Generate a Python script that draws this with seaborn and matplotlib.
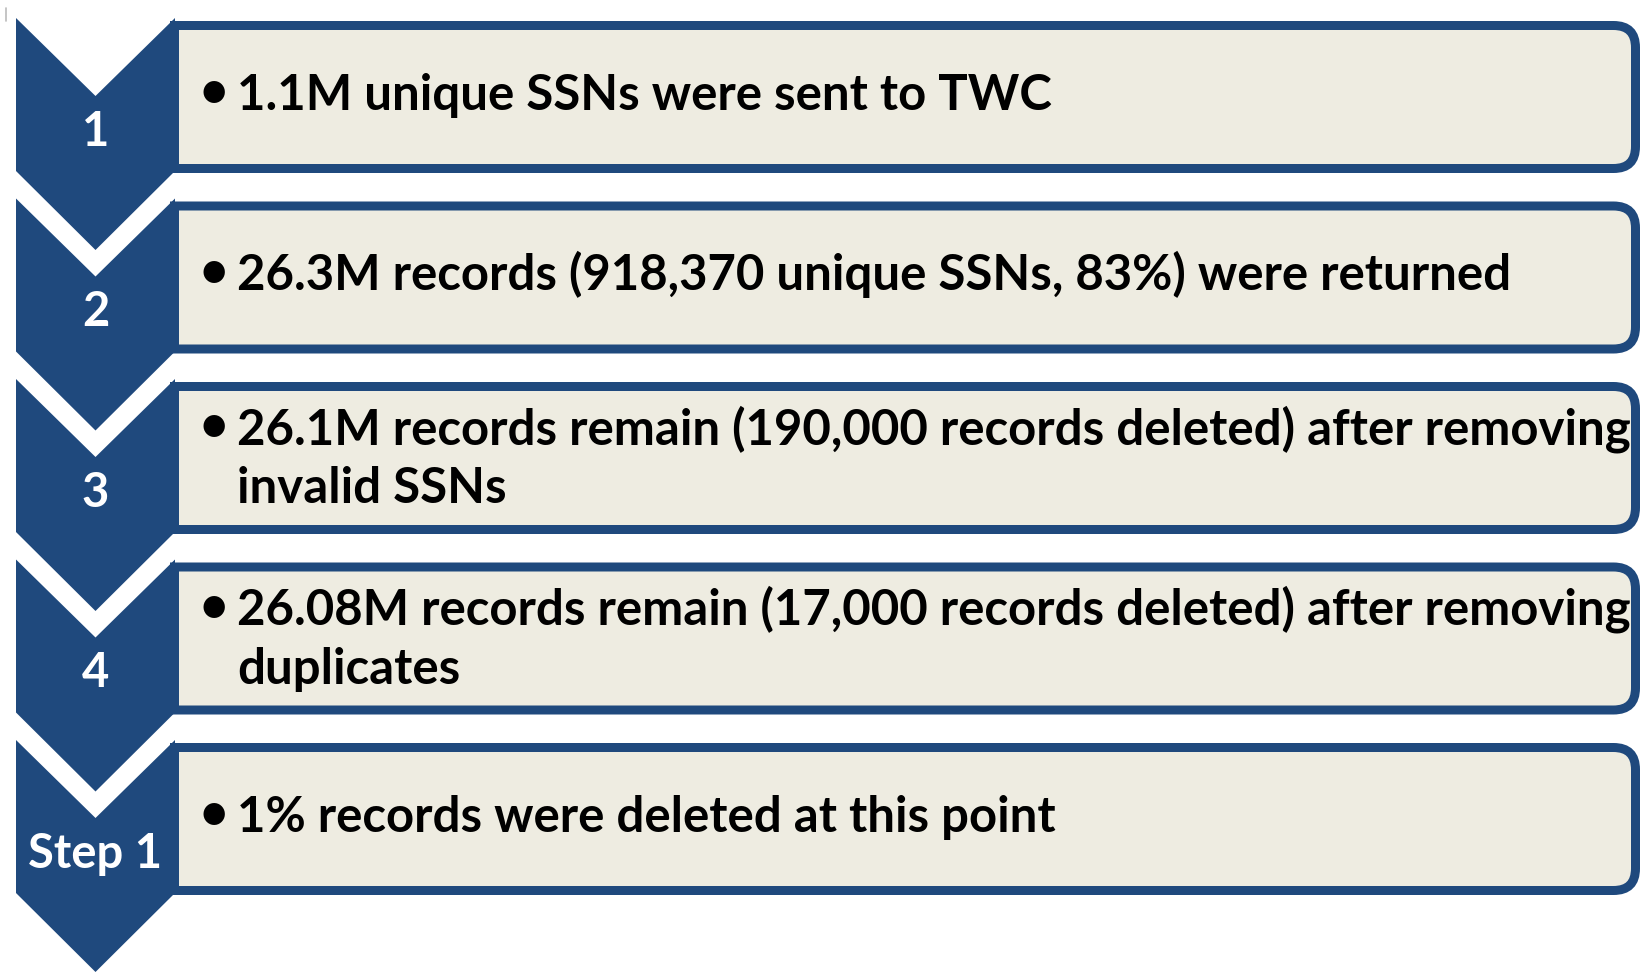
import matplotlib
matplotlib.use("Agg")
import matplotlib.pyplot as plt
import seaborn as sns
from matplotlib.path import Path
from matplotlib.patches import PathPatch, Polygon

# 数据: 每一步的编号与说明文字
step_labels = ["1", "2", "3", "4", "Step 1"]
step_lines = [
    ["1.1M unique SSNs were sent to TWC"],
    ["26.3M records (918,370 unique SSNs, 83%) were returned"],
    ["26.1M records remain (190,000 records deleted) after removing", "invalid SSNs"],
    ["26.08M records remain (17,000 records deleted) after removing", "duplicates"],
    ["1% records were deleted at this point"],
]

NAVY = "#1F497D"
TAN = "#EEECE1"

sns.set_theme(style="white")
plt.rcParams["font.family"] = ["Lato", "DejaVu Sans"]

W, H = 1642, 973
fig = plt.figure(figsize=(W / 100, H / 100), dpi=100)
fig.patch.set_facecolor("white")
ax = fig.add_axes([0, 0, 1, 1])
ax.set_xlim(0, W)
ax.set_ylim(H, 0)
ax.axis("off")

# 版式参数 (像素)
chev_x0, chev_x1 = 16, 175
chev_xc = (chev_x0 + chev_x1) / 2
notch, tip = 78, 79
box_top0, pitch = 21, 180.5
box_x0, box_x1 = 170, 1640
box_h = 152
radius = 22
lw_px = 9
text_x, bullet_x = 237, 214
line_gap = 59

renderer = fig.canvas.get_renderer()


def fit_size(s, target_px, base=40):
    t = ax.text(0, 0, s, fontsize=base, fontweight="bold")
    w = t.get_window_extent(renderer).width
    t.remove()
    return base * target_px / w


longest = max((l for ls in step_lines for l in ls), key=len)
fs = fit_size(longest, 1628 - text_x)
fs_lab = fit_size("Step 1", 134)
cap = 0.7165 * fs * 100 / 72
cap_lab = 0.7165 * fs_lab * 100 / 72

for i, (lab, lines) in enumerate(zip(step_labels, step_lines)):
    btop = box_top0 + i * pitch
    bbot = btop + box_h
    ctop = btop - 3
    cbody = bbot - 2
    # 人字形箭头
    pts = [(chev_x0, ctop), (chev_xc, ctop + notch), (chev_x1, ctop),
           (chev_x1, cbody), (chev_xc, cbody + tip), (chev_x0, cbody)]
    ax.add_patch(Polygon(pts, closed=True, facecolor=NAVY, edgecolor="none", zorder=1))

    # 右侧圆角文本框
    d = lw_px / 2
    l, r = box_x0 + d, box_x1 - d
    t, b = btop + d, bbot - d
    verts = [(l, t), (r - radius, t), (r, t), (r, t + radius),
             (r, b - radius), (r, b), (r - radius, b), (l, b), (l, t)]
    codes = [Path.MOVETO, Path.LINETO, Path.CURVE3, Path.CURVE3,
             Path.LINETO, Path.CURVE3, Path.CURVE3, Path.LINETO, Path.CLOSEPOLY]
    ax.add_patch(PathPatch(Path(verts, codes), facecolor=TAN, edgecolor=NAVY,
                           linewidth=lw_px * 72 / 100, joinstyle="miter", zorder=2))

    # 编号
    ax.text(chev_xc, ctop + 111 + cap_lab / 2, lab, color="white", fontsize=fs_lab,
            fontweight="bold", ha="center", va="baseline", zorder=3)

    # 说明文字
    mid = (btop + bbot) / 2
    if len(lines) == 1:
        centers = [mid - 5]
    else:
        centers = [mid - 2 - line_gap / 2, mid - 2 + line_gap / 2]
    for j, (line, cy) in enumerate(zip(lines, centers)):
        base = cy + cap / 2
        if j == 0:
            ax.text(bullet_x, base - 3, "\u2022", fontsize=fs, fontweight="bold",
                    color="black", ha="center", va="baseline", zorder=3)
        ax.text(text_x, base, line, fontsize=fs, fontweight="bold", color="black",
                ha="left", va="baseline", zorder=3)

# 左上角的小竖线
ax.plot([6, 6], [8, 21], color="#BBBBBB", linewidth=1.2)

fig.savefig("out.png", dpi=100, facecolor="white")
